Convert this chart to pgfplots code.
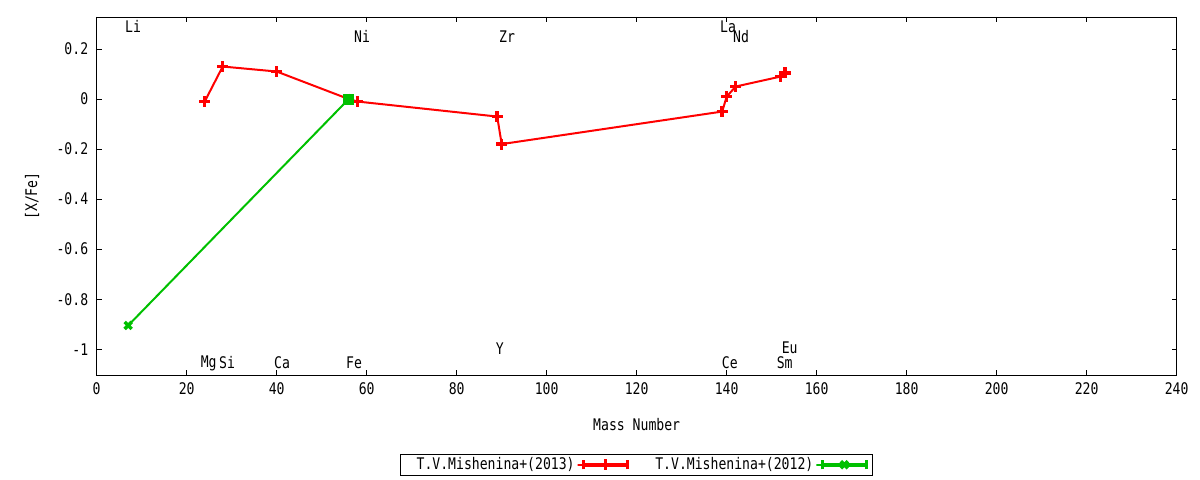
\documentclass[border=0pt]{standalone}
\usepackage{fontspec}
\setmainfont[FakeStretch=0.82]{DejaVu Sans Mono}
\usepackage{pgfplots}
\pgfplotsset{compat=1.18}
\definecolor{gred}{RGB}{255,0,0}
\definecolor{ggreen}{RGB}{0,192,0}
\begin{document}
\fontsize{16bp}{18bp}\selectfont
\begin{tikzpicture}
\path[use as bounding box] (0,0) rectangle (1200bp,480bp);
\begin{axis}[
  at={(96.7bp,105bp)}, anchor=south west,
  scale only axis, width=1080bp, height=358bp,
  xmin=0, xmax=240, ymin=-1.103, ymax=0.328,
  xtick={0,20,...,240},
  ytick={-1,-0.8,-0.6,-0.4,-0.2,0,0.2},
  yticklabels={-1,-0.8,-0.6,-0.4,-0.2,0,0.2},
  xticklabels={0,20,40,60,80,100,120,140,160,180,200,220,240},
  tick align=inside,
  major tick length=5bp,
  tick style={black, line width=0.8bp},
  axis line style={black, line width=0.8bp},
  xticklabel style={anchor=center, yshift=-14bp, font=\fontsize{16bp}{18bp}\selectfont},
  yticklabel style={anchor=east, xshift=-3bp, font=\fontsize{16bp}{18bp}\selectfont},
  xlabel={Mass Number},
  ylabel={[X/Fe]},
  xlabel style={at={(axis description cs:0.5,-0.1397)}, anchor=center, font=\fontsize{16bp}{18bp}\selectfont},
  ylabel style={at={(axis description cs:-0.0599,0.5)}, anchor=center, font=\fontsize{16bp}{18bp}\selectfont},
  legend plot pos=right,
  legend columns=2,
  legend cell align=right,
  legend style={at={(axis description cs:0.4997,-0.2507)}, anchor=center,
    draw=black, line width=0.8bp, inner xsep=4bp, inner ysep=1bp,
    font=\fontsize{16bp}{18bp}\selectfont,
    /tikz/every even column/.append style={column sep=24bp}},
  legend image code/.code={
    \path (0bp,0bp) rectangle (50bp,0bp);
    \draw[#1, mark=none, line width=3.5bp] (6bp,0bp) -- (50bp,0bp);
    \draw[#1, mark=none, line width=3.5bp] (6bp,-4.5bp) -- (6bp,4.5bp);
    \draw[#1, mark=none, line width=3.5bp] (50bp,-4.5bp) -- (50bp,4.5bp);
    \draw[#1] plot coordinates {(28bp,0bp)};
  },
  clip=false,
]
\addplot[gred, line width=2bp, mark=+, mark size=5.5bp, mark options={line width=3.5bp}]
  coordinates {(24,-0.01) (28,0.13) (40,0.11) (56,0.0) (58,-0.01) (89,-0.07) (90,-0.18)
               (139,-0.05) (140,0.01) (142,0.05) (152,0.09) (153,0.105)};
\addlegendentry{\hspace{10bp}T.V.Mishenina+(2013)}
\addplot[ggreen, line width=2bp, mark=x, mark size=5bp, mark options={line width=3.5bp}]
  coordinates {(7,-0.905) (56,0.0)};
\addlegendentry{T.V.Mishenina+(2012)}
\addplot[ggreen, only marks, mark=square*, mark size=5bp, forget plot]
  coordinates {(56,0.0)};
\begin{scope}[every node/.style={font=\fontsize{16bp}{18bp}\selectfont, inner sep=0pt}]
\node at (axis cs:8.07,0.289) {Li};
\node at (axis cs:58.96,0.249) {Ni};
\node at (axis cs:91.2,0.249) {Zr};
\node at (axis cs:140.3,0.289) {La};
\node at (axis cs:143.2,0.249) {Nd};
\node at (axis cs:24.9,-1.055) {Mg};
\node at (axis cs:28.96,-1.055) {Si};
\node at (axis cs:41.2,-1.055) {Ca};
\node at (axis cs:57.2,-1.055) {Fe};
\node at (axis cs:89.6,-0.999) {Y};
\node at (axis cs:140.7,-1.055) {Ce};
\node at (axis cs:152.9,-1.055) {Sm};
\node at (axis cs:154.0,-0.995) {Eu};
\end{scope}
\end{axis}
\end{tikzpicture}
\end{document}
